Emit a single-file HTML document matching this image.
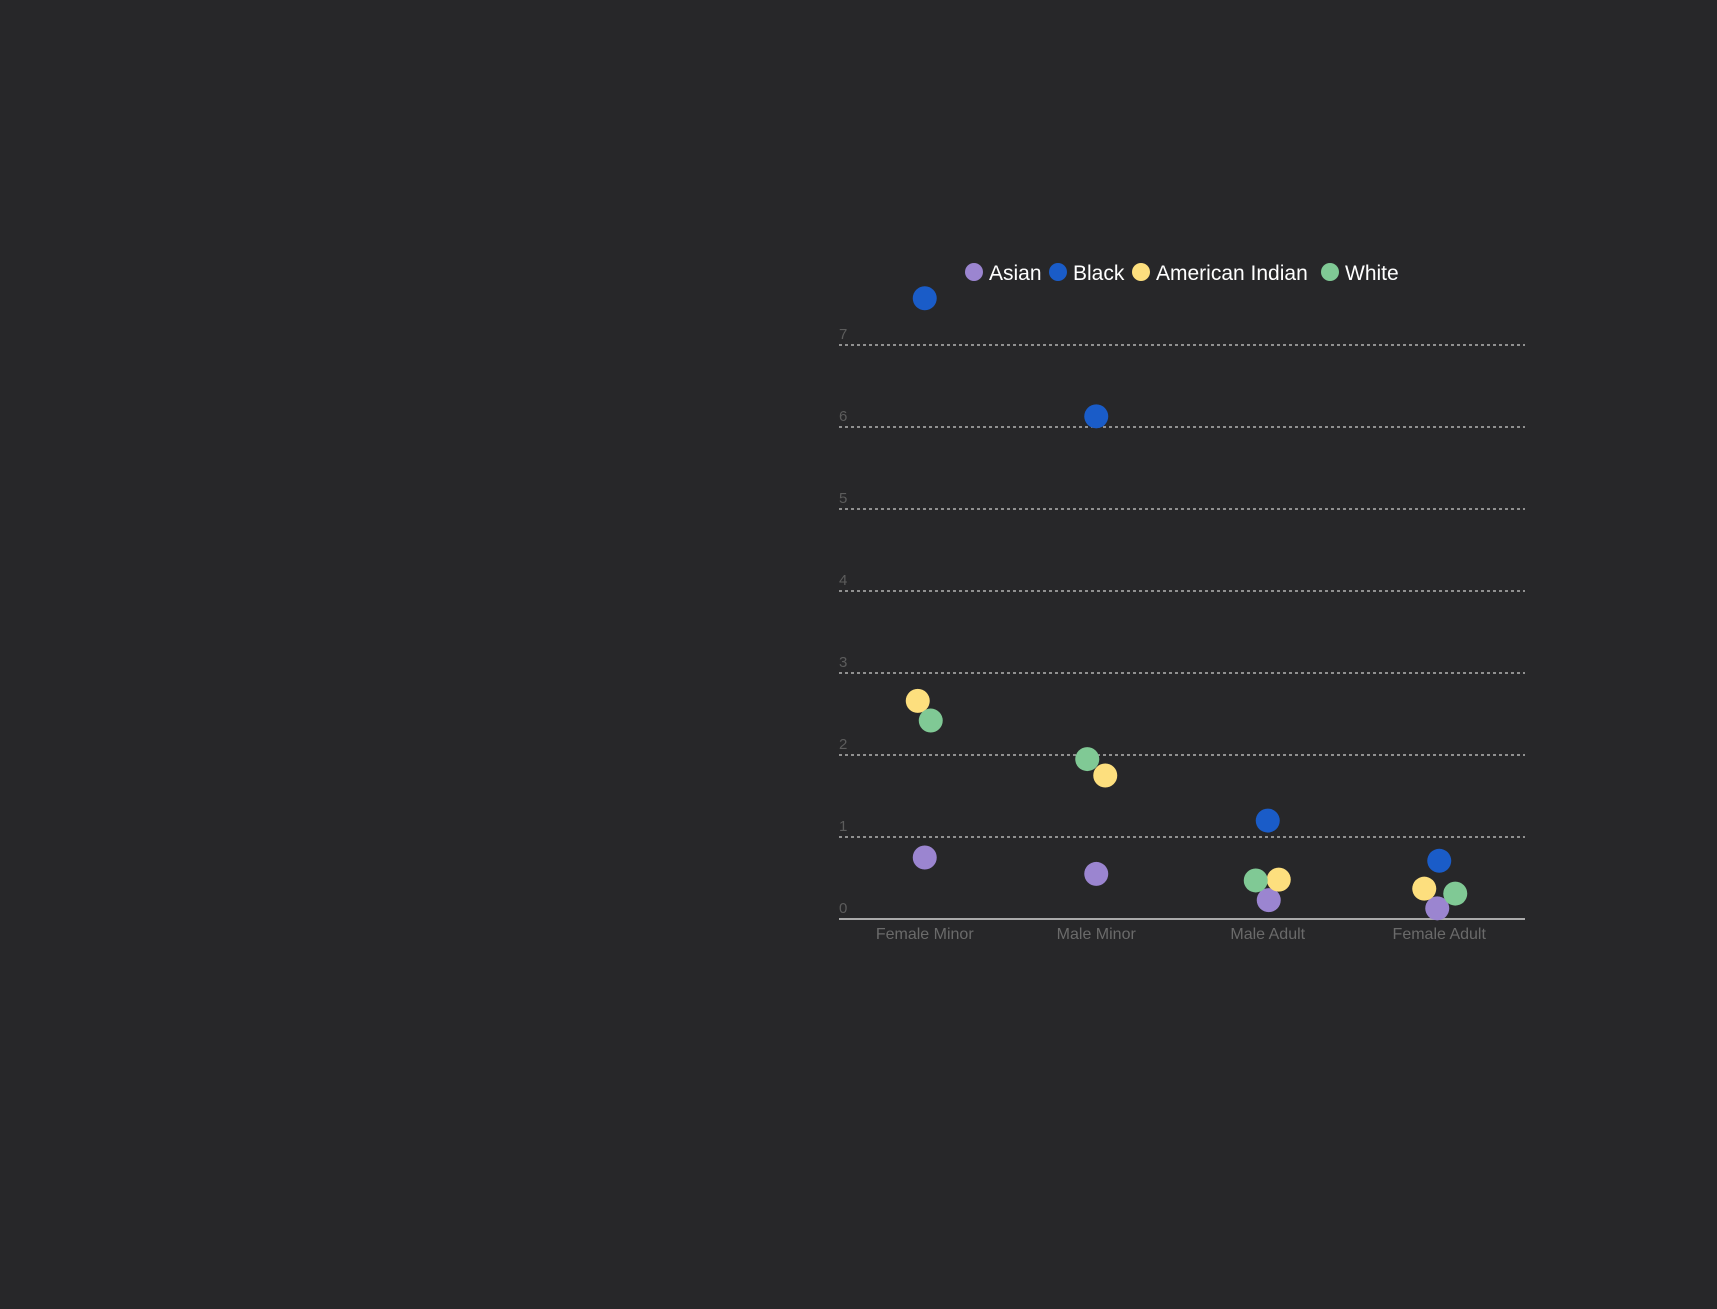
<!DOCTYPE html>
<html><head><meta charset="utf-8"><style>
body{margin:0;background:#272729;width:1717px;height:1304px;overflow:hidden;font-family:"Liberation Sans",sans-serif}
</style></head><body>
<svg width="1717" height="1304">
<g id="grid"></g>
<g id="legend"></g>
<g id="xaxis"></g>
<g id="dots"></g>
</svg>
<script>
const categories=["Female Minor","Male Minor","Male Adult","Female Adult"];
const seriesNames=["Asian","Black","American Indian","White"];
const colors=["#9b85d0","#1a5cc8","#fddf7e","#80c995"];
const asian=[0.75,0.55,0.23,0.13];
const black=[7.57,6.13,1.2,0.71];
const americanIndian=[2.66,1.75,0.48,0.37];
const white=[2.42,1.95,0.47,0.31];
const yTicks=[0,1,2,3,4,5,6,7];
const jitterAsian=[0,0,1,-2];
const jitterBlack=[0,0,0,0];
const jitterAmInd=[-7,9,11,-15];
const jitterWhite=[6,-9,-12,16];
const ns="http://www.w3.org/2000/svg";
const L=839,R=1525,B=919,U=82;
const y=v=>B-v*U;
const bw=(R-L)/categories.length;
const x=i=>L+bw*(i+0.5);
function mk(t,a,p){const e=document.createElementNS(ns,t);for(const k in a)e.setAttribute(k,a[k]);p.appendChild(e);return e;}
const grid=document.getElementById('grid');
yTicks.forEach(t=>{
  if(t>0){const l=mk('line',{x1:L,x2:R,y1:y(t),y2:y(t),stroke:'#cfcfcf','stroke-width':1.3,'stroke-dasharray':'3,3'},grid);
  
  }
  const tx=mk('text',{x:L,y:y(t)-6,fill:'#5c5c5c','font-size':15},grid);tx.textContent=t;
  
  
});
const xa=document.getElementById('xaxis');
const base=mk('line',{x1:L,x2:R,y1:B,y2:B,stroke:'#aaa','stroke-width':2},xa);


categories.forEach((c,i)=>{const t=mk('text',{x:x(i),y:B+20,fill:'#6a6a6a','font-size':16,'text-anchor':'middle'},xa);t.textContent=c;
  
  });
const series=[asian,black,americanIndian,white];
const jit=[jitterAsian,jitterBlack,jitterAmInd,jitterWhite];
const dots=document.getElementById('dots');
series.forEach((s,k)=>s.forEach((v,i)=>{
  const c=mk('circle',{cx:x(i)+jit[k][i],cy:y(v),r:12,fill:colors[k]},dots);
  
  
}));
const lg=document.getElementById('legend');
const lx=[974,1058,1141,1330];
seriesNames.forEach((n,k)=>{
  const c=mk('circle',{cx:lx[k],cy:272,r:9,fill:colors[k]},lg);
  
  
  const t=mk('text',{x:lx[k]+15,y:280,fill:'#fff','font-size':21},lg);t.textContent=n;
  
  
});
</script>
</body></html>
